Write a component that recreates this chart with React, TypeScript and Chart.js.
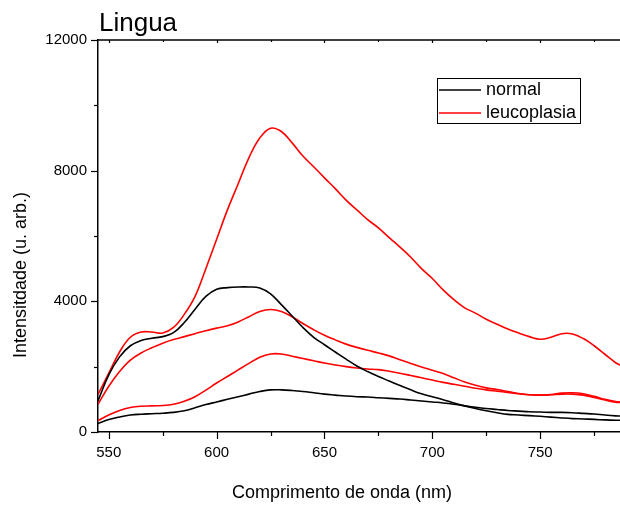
import React, { useEffect, useRef } from 'react';
import { Chart, registerables } from 'chart.js';

Chart.register(...registerables);

// Wavelength (nm)
const wavelengths = [
  545, 550, 555, 560, 565, 570, 575, 580, 585, 590, 595, 600, 605, 610, 615, 620, 625,
  630, 635, 640, 645, 650, 655, 660, 665, 670, 675, 680, 685, 690, 695, 700, 705, 710,
  715, 720, 725, 730, 735, 740, 745, 750, 755, 760, 765, 770, 775, 780, 785, 787,
];

// normal (black) spectra
const normalA = [
  950, 1750, 2300, 2640, 2800, 2870, 2920, 3040, 3350, 3760, 4150, 4370, 4420, 4440, 4440, 4410, 4230,
  3900, 3550, 3200, 2900, 2670, 2450, 2230, 2020, 1850, 1700, 1560, 1420, 1290, 1170, 1080, 990, 890,
  800, 720, 650, 590, 540, 520, 500, 480, 455, 430, 410, 400, 385, 370, 360, 358,
];
const normalB = [
  260, 380, 460, 520, 545, 560, 575, 600, 650, 740, 840, 920, 1000, 1080, 1160, 1240, 1290,
  1290, 1270, 1240, 1200, 1160, 1130, 1100, 1080, 1070, 1050, 1030, 1010, 980, 950, 920, 890, 850,
  800, 760, 720, 690, 660, 640, 620, 610, 600, 600, 590, 570, 550, 520, 495, 490,
];

// leucoplasia (red) spectra
const leucoA = [
  1150, 1800, 2450, 2900, 3060, 3060, 3030, 3200, 3600, 4150, 5000, 5900, 6800, 7600, 8400, 9000, 9300,
  9200, 8850, 8450, 8120, 7780, 7450, 7100, 6800, 6500, 6250, 5950, 5660, 5350, 5000, 4700, 4350, 4050,
  3800, 3640, 3450, 3300, 3150, 3030, 2920, 2840, 2900, 3010, 3000, 2860, 2640, 2380, 2120, 2046,
];
const leucoB = [
  850, 1400, 1850, 2200, 2420, 2580, 2720, 2830, 2920, 3010, 3100, 3180, 3250, 3370, 3530, 3690, 3750,
  3690, 3530, 3320, 3130, 2960, 2820, 2690, 2590, 2500, 2420, 2330, 2210, 2100, 1990, 1890, 1790, 1660,
  1530, 1430, 1350, 1300, 1240, 1180, 1140, 1130, 1150, 1190, 1200, 1170, 1090, 1000, 930, 920,
];
const leucoC = [
  350, 520, 660, 750, 790, 800, 810, 850, 940, 1080, 1280, 1500, 1700, 1900, 2100, 2290, 2390,
  2390, 2320, 2250, 2180, 2110, 2050, 2000, 1960, 1930, 1910, 1860, 1800, 1730, 1660, 1590, 1520, 1460,
  1400, 1340, 1290, 1250, 1210, 1170, 1140, 1130, 1140, 1160, 1160, 1130, 1060, 980, 910, 905,
];

const titleText = 'Lingua';
const xTitle = 'Comprimento de onda (nm)';
const yTitle = 'Intensitdade (u. arb.)';
const legendLabels = ['normal', 'leucoplasia'];
const legendColors = ['#000000', '#ff0000'];

const FONT = '"Liberation Sans", Arial, sans-serif';

const toPoints = (vals: number[]) => wavelengths.map((w, i) => ({ x: w, y: vals[i] }));

const decorPlugin = {
  id: 'decor',
  afterDraw(chart: any) {
    const { ctx, chartArea: ca, scales } = chart;
    const x = scales.x;
    const y = scales.y;
    ctx.save();
    ctx.strokeStyle = '#000';
    ctx.lineWidth = 1.5;
    // top frame line
    ctx.beginPath();
    ctx.moveTo(ca.left, ca.top);
    ctx.lineTo(ca.right, ca.top);
    ctx.stroke();
    ctx.lineWidth = 1.2;
    x.ticks.forEach((t: any) => {
      const px = Math.round(x.getPixelForValue(t.value)) + 0.5;
      const major = t.value % 50 === 0;
      ctx.beginPath();
      ctx.moveTo(px, ca.bottom);
      ctx.lineTo(px, ca.bottom + (major ? 7 : 4));
      ctx.stroke();
      ctx.beginPath();
      ctx.moveTo(px, ca.top);
      ctx.lineTo(px, ca.top + (major ? 3 : 2));
      ctx.stroke();
    });
    y.ticks.forEach((t: any) => {
      const py = Math.round(y.getPixelForValue(t.value)) + 0.5;
      const major = t.value % 4000 === 0;
      ctx.beginPath();
      ctx.moveTo(ca.left, py);
      ctx.lineTo(ca.left - (major ? 7 : 4), py);
      ctx.stroke();
    });

    ctx.fillStyle = '#000';
    // title
    ctx.font = `26px ${FONT}`;
    ctx.textAlign = 'left';
    ctx.textBaseline = 'alphabetic';
    ctx.fillText(titleText, 99, 31);

    // axis titles
    ctx.font = `18px ${FONT}`;
    ctx.textAlign = 'center';
    ctx.textBaseline = 'middle';
    ctx.fillText(xTitle, 342, 493);
    ctx.save();
    ctx.translate(21, 275);
    ctx.rotate(-Math.PI / 2);
    ctx.fillText(yTitle, 0, 0);
    ctx.restore();

    // legend
    ctx.lineWidth = 1;
    ctx.strokeStyle = '#000';
    ctx.strokeRect(437.5, 78.5, 143, 45);
    ctx.font = `18px ${FONT}`;
    ctx.textAlign = 'left';
    ctx.textBaseline = 'middle';
    legendLabels.forEach((lab, i) => {
      const ly = 90 + i * 23;
      ctx.strokeStyle = legendColors[i];
      ctx.lineWidth = 1.6;
      ctx.beginPath();
      ctx.moveTo(439, ly);
      ctx.lineTo(481, ly);
      ctx.stroke();
      ctx.fillStyle = '#000';
      ctx.fillText(lab, 486, ly);
    });
    ctx.restore();
  },
};

export default function App() {
  const ref = useRef<HTMLCanvasElement | null>(null);

  useEffect(() => {
    if (!ref.current) return;
    const mk = (label: string, vals: number[], color: string) => ({
      label,
      data: toPoints(vals),
      borderColor: color,
      backgroundColor: color,
      borderWidth: 1.6,
      pointRadius: 0,
      fill: false,
      tension: 0.4,
    });
    const chart = new Chart(ref.current, {
      type: 'line',
      data: {
        datasets: [
          mk('normal', normalB, legendColors[0]),
          mk('normal', normalA, legendColors[0]),
          mk('leucoplasia', leucoC, legendColors[1]),
          mk('leucoplasia', leucoB, legendColors[1]),
          mk('leucoplasia', leucoA, legendColors[1]),
        ],
      },
      options: {
        animation: false,
        responsive: false,
        events: [],
        layout: { padding: { top: 40, left: 0, right: 0, bottom: 0 } },
        plugins: { legend: { display: false }, tooltip: { enabled: false }, title: { display: false } },
        scales: {
          x: {
            type: 'linear',
            min: 545,
            max: 787,
            grid: { display: false, drawTicks: false },
            border: { display: true, color: '#000', width: 1.5 },
            ticks: {
              stepSize: 25,
              includeBounds: false,
              autoSkip: false,
              maxRotation: 0,
              padding: 12,
              color: '#000',
              font: { family: FONT, size: 15 },
              callback: (v: any) => (Number(v) % 50 === 0 ? String(v) : ''),
            },
            afterFit: (s: any) => {
              s.height = 73;
            },
          },
          y: {
            type: 'linear',
            min: 0,
            max: 12000,
            grid: { display: false, drawTicks: false },
            border: { display: true, color: '#000', width: 1.5 },
            ticks: {
              stepSize: 2000,
              autoSkip: false,
              padding: 11,
              color: '#000',
              font: { family: FONT, size: 15 },
              callback: (v: any) => (Number(v) % 4000 === 0 ? String(v) : ''),
            },
            afterFit: (s: any) => {
              s.width = 98;
            },
          },
        },
      },
      plugins: [decorPlugin],
    });
    return () => chart.destroy();
  }, []);

  return (
    <div style={{ position: 'absolute', left: 0, top: 0, width: 620, height: 505, background: '#fff' }}>
      <canvas ref={ref} width={620} height={505} />
    </div>
  );
}
